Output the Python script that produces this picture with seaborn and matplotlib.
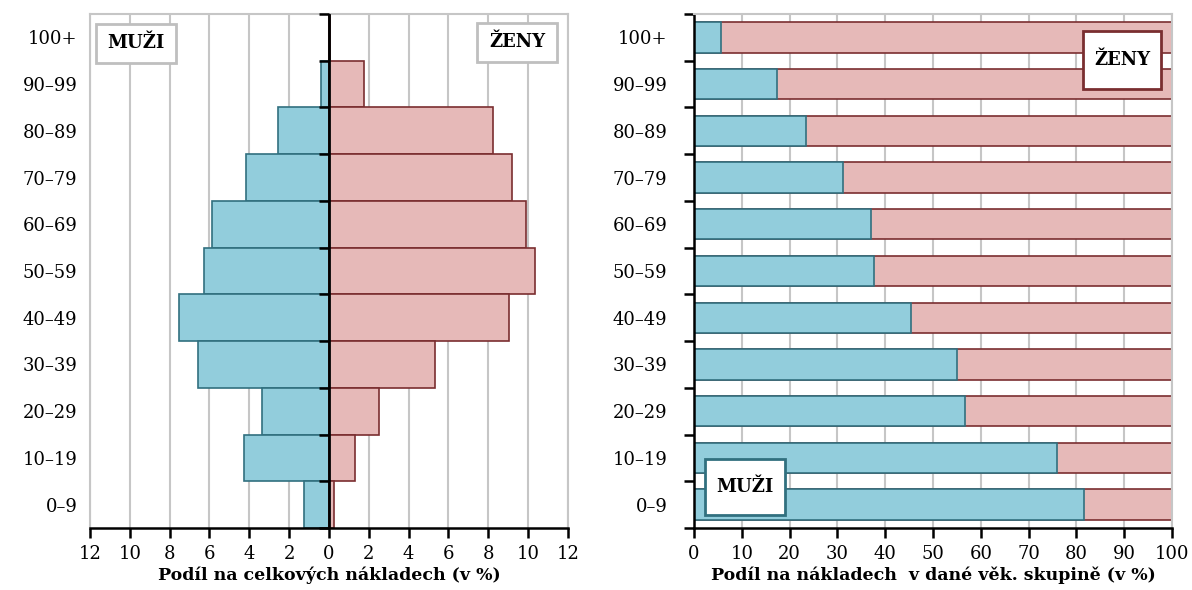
import numpy as np
import pandas as pd
import matplotlib.pyplot as plt
from matplotlib.patches import Rectangle
import seaborn as sns

# věkové skupiny (shora dolů)
age_groups = ['100+', '90–99', '80–89', '70–79', '60–69', '50–59',
              '40–49', '30–39', '20–29', '10–19', '0–9']

# podíl na celkových nákladech (v %)
men_total = [0.01, 0.40, 2.55, 4.18, 5.88, 6.28, 7.54, 6.56, 3.36, 4.28, 1.23]
women_total = [0.03, 1.78, 8.24, 9.18, 9.87, 10.34, 9.05, 5.32, 2.53, 1.33, 0.27]

# podíl na nákladech v dané věkové skupině (v %)
men_share = [5.6, 17.4, 23.4, 31.2, 37.1, 37.6, 45.4, 55.0, 56.7, 76.0, 81.5]
women_share = [94.4, 82.6, 76.6, 68.8, 62.9, 62.4, 54.6, 45.0, 43.3, 24.0, 18.5]

pyramid_ticks = list(range(-12, 13, 2))
share_ticks = list(range(0, 101, 10))

BLUE = '#92CDDC'
BLUE_EDGE = '#31707F'
PINK = '#E6B9B8'
PINK_EDGE = '#7A2E30'
GRID = '#C6C6C6'

sns.set_style('white')
plt.rcParams['font.family'] = ['DejaVu Serif']
plt.rcParams['font.size'] = 12.5
plt.rcParams['text.color'] = 'black'
plt.rcParams['axes.labelcolor'] = 'black'
plt.rcParams['xtick.color'] = 'black'
plt.rcParams['ytick.color'] = 'black'


def label_box(ax, x, y, w, h, text, edge):
    ax.add_patch(Rectangle((x, y), w, h, transform=ax.transAxes, facecolor='white',
                           edgecolor=edge, linewidth=2, zorder=5, clip_on=False))
    ax.text(x + w / 2, y + h / 2, text, transform=ax.transAxes, ha='center',
            va='center', fontweight='bold', fontsize=13, color='black', zorder=6)


def style_bottom(ax):
    for side in ['top', 'left', 'right']:
        ax.spines[side].set_color(GRID)
        ax.spines[side].set_linewidth(1.5)
    ax.spines['bottom'].set_color('black')
    ax.spines['bottom'].set_linewidth(1.8)
    ax.tick_params(axis='x', direction='out', length=7, width=1.8, color='black',
                   labelcolor='black', bottom=True, labelsize=13, pad=5)
    ax.grid(axis='x', color=GRID, linewidth=1.5)
    ax.grid(axis='y', visible=False)
    ax.set_axisbelow(True)


df = pd.DataFrame({'vek': age_groups, 'muzi': men_total, 'zeny': women_total,
                   'muzi_podil': men_share, 'zeny_podil': women_share})
boundaries = np.arange(-0.5, len(age_groups), 1)

fig = plt.figure(figsize=(11.92, 5.90), dpi=100)

# ---------- levý graf: pyramida ----------
ax1 = fig.add_axes([0.0755, 0.1051, 0.401, 0.8712])
sns.barplot(x=-df['muzi'], y=df['vek'], orient='h', width=1, color=BLUE,
            saturation=1, edgecolor=BLUE_EDGE, linewidth=1.2, errorbar=None, ax=ax1)
sns.barplot(x=df['zeny'], y=df['vek'], orient='h', width=1, color=PINK,
            saturation=1, edgecolor=PINK_EDGE, linewidth=1.2, errorbar=None, ax=ax1)
ax1.set_xlim(-12, 12)
ax1.set_ylim(len(age_groups) - 0.5, -0.5)
ax1.set_xticks(pyramid_ticks)
ax1.set_xticklabels([str(abs(t)) for t in pyramid_ticks])
style_bottom(ax1)
ax1.tick_params(axis='y', length=0, pad=9, labelsize=13, labelcolor='black')
ax1.set_ylabel('')
ax1.set_xlabel('Podíl na celkových nákladech (v %)', fontweight='bold',
               fontsize=12.5, labelpad=3, color='black')

# osa v nule s čárkami na hranicích skupin
ax1.axvline(0, color='black', linewidth=2, zorder=4)
ax1.plot(np.zeros(len(boundaries)), boundaries, linestyle='none', marker=0,
         markersize=7, markeredgewidth=1.8, color='black', zorder=4, clip_on=False)

label_box(ax1, 0.012, 0.905, 0.168, 0.076, 'MUŽI', '#BFBFBF')
label_box(ax1, 0.809, 0.907, 0.169, 0.076, 'ŽENY', '#BFBFBF')

# ---------- pravý graf: podíly ve skupině ----------
ax2 = fig.add_axes([0.5822, 0.1051, 0.401, 0.8712])
sns.barplot(x=df['muzi_podil'] + df['zeny_podil'], y=df['vek'], orient='h',
            width=0.65, color=PINK, saturation=1, edgecolor=PINK_EDGE,
            linewidth=1.2, errorbar=None, ax=ax2)
sns.barplot(x=df['muzi_podil'], y=df['vek'], orient='h', width=0.65, color=BLUE,
            saturation=1, edgecolor=BLUE_EDGE, linewidth=1.2, errorbar=None, ax=ax2)
ax2.set_xlim(0, 100)
ax2.set_ylim(len(age_groups) - 0.5, -0.5)
ax2.set_xticks(share_ticks)
style_bottom(ax2)
ax2.spines['left'].set_color('black')
ax2.spines['left'].set_linewidth(1.8)
ax2.set_yticks(boundaries, minor=True)
ax2.tick_params(axis='y', which='major', length=0, pad=19, labelsize=13,
                labelcolor='black')
ax2.tick_params(axis='y', which='minor', left=True, length=7, width=1.8,
                color='black', direction='out')
ax2.set_ylabel('')
ax2.set_xlabel('Podíl na nákladech  v dané věk. skupině (v %)', fontweight='bold',
               fontsize=12.5, labelpad=3, color='black')

label_box(ax2, 0.814, 0.855, 0.164, 0.112, 'ŽENY', PINK_EDGE)
label_box(ax2, 0.023, 0.025, 0.168, 0.110, 'MUŽI', BLUE_EDGE)

fig.savefig('out.png', dpi=100)
